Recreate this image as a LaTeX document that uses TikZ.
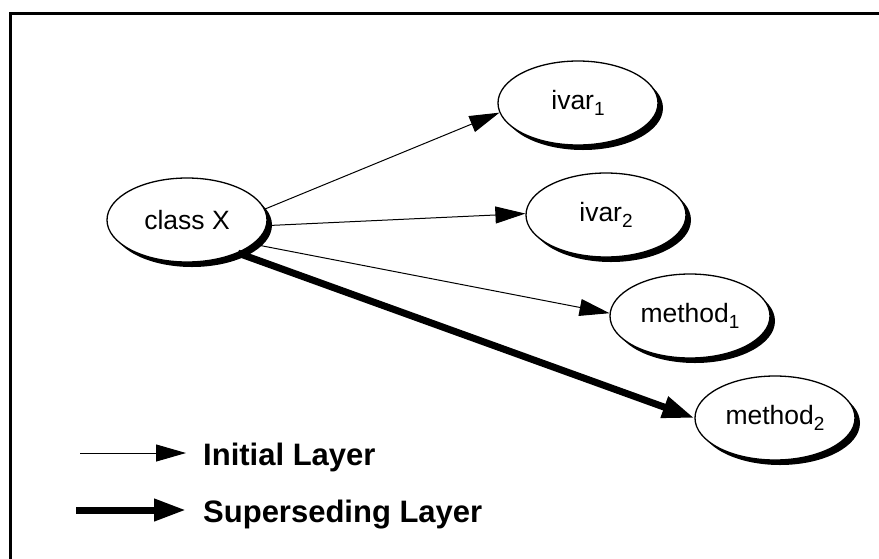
\documentclass[tikz,border=0pt]{standalone}
\usepackage{fontspec}
\setmainfont{Liberation Sans}
\usetikzlibrary{shapes.geometric,arrows.meta,shadows}
\newcommand\lowidx[1]{\raisebox{-6pt}{\fontsize{19}{19}\selectfont #1}}
\begin{document}
\begin{tikzpicture}[x=1pt,y=-1pt,
  obj/.style={ellipse, draw=black, line width=1.3pt, fill=white,
    minimum width=160pt, minimum height=84pt, inner sep=0pt,
    font=\fontsize{26.5}{26.5}\selectfont,
    drop shadow={shadow xshift=5pt, shadow yshift=-5pt, fill=black, opacity=1}},
  thinarrow/.style={line width=1pt, -{Triangle[length=30pt,width=17pt]}},
  thickarrow/.style={line width=7pt, -{Triangle[length=32pt,width=21pt]}},
  legendtext/.style={font=\fontsize{31}{31}\selectfont\bfseries, anchor=base west, inner sep=0pt}
]
\useasboundingbox (0,0) rectangle (879,558);
\draw[line width=3pt] (10.5,560) -- (10.5,13) -- (881,13);

\node[obj] (cx) at (187,220) {class X};
\node[obj] (iv1) at (578,103) {ivar\lowidx{1}};
\node[obj] (iv2) at (606,215) {ivar\lowidx{2}};
\node[obj] (m1) at (690,316) {method\lowidx{1}};
\node[obj] (m2) at (775,418) {method\lowidx{2}};

\draw[thinarrow] (cx.8) -- (iv1.187);
\draw[thinarrow] (cx.-4) -- (iv2.179);
\draw[thinarrow] (cx.-20) -- (m1.178);
\draw[thickarrow] (cx.-33) -- (m2.180);

\coordinate (l1a) at (80,453);
\coordinate (l1b) at (186,453);
\coordinate (l2a) at (76,510);
\coordinate (l2b) at (186,510);
\draw[thinarrow] (l1a) -- (l1b);
\draw[thickarrow] (l2a) -- (l2b);
\node[legendtext] (t1) at (203,465) {Initial Layer};
\node[legendtext] (t2) at (203,522) {Superseding Layer};
\end{tikzpicture}
\end{document}
